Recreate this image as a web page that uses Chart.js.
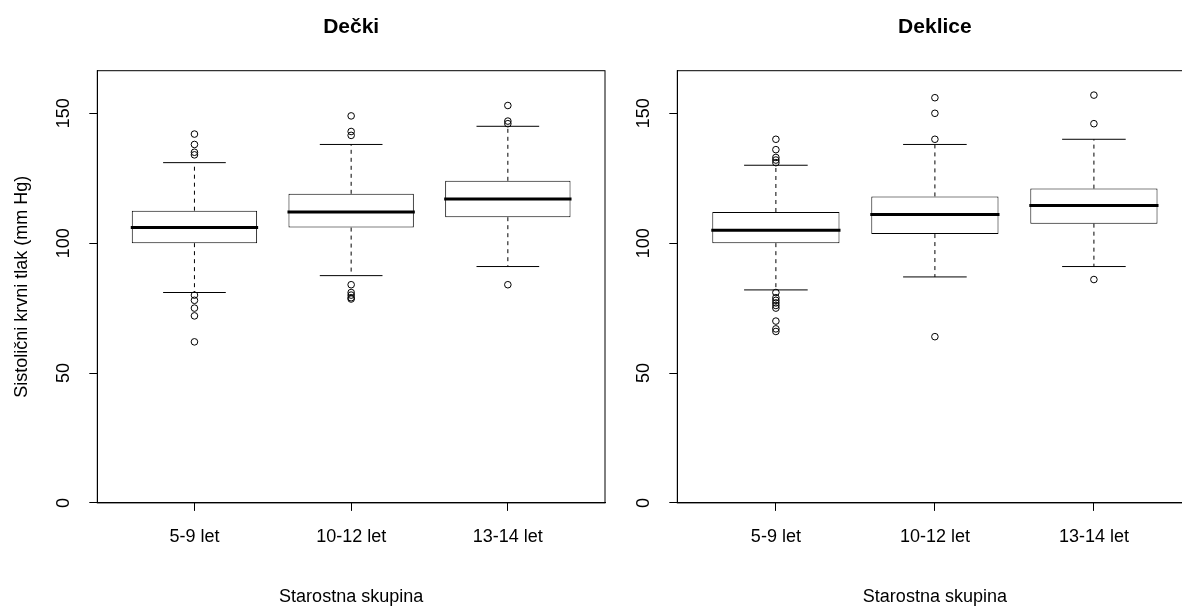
<!DOCTYPE html>
<html>
<head>
<meta charset="utf-8">
<script src="https://cdn.jsdelivr.net/npm/chart.js@4"></script>
<style>
  html, body { margin: 0; padding: 0; overflow: hidden; background: #fff; }
  body { position: relative; width: 1182px; height: 608px; }
  canvas { position: absolute; top: 0; }
  #boysChart { left: 0; }
  #girlsChart { left: 580px; }
</style>
</head>
<body>
<canvas id="boysChart" width="612" height="608"></canvas>
<canvas id="girlsChart" width="628" height="608"></canvas>
<script>
// Groups and axis ticks
const categories = ['5-9 let', '10-12 let', '13-14 let'];
const xPositions = [1, 2, 3];
const yTicks = [0, 50, 100, 150];

// Dečki (boys) box statistics
const boysLow = [81, 87.5, 91];
const boysQ1 = [100, 106, 110];
const boysMedian = [106, 112, 117];
const boysQ3 = [112.5, 119, 124];
const boysHigh = [131, 138, 145];
const boysOutliers = [
    [142, 138, 135, 134, 80, 78, 75, 72, 62],
    [149, 143, 141.5, 84, 81, 80, 79, 78.5],
    [153, 147, 146, 84],
];

// Deklice (girls) box statistics
const girlsLow = [82, 87, 91];
const girlsQ1 = [100, 103.5, 107.5];
const girlsMedian = [105, 111, 114.5];
const girlsQ3 = [112, 118, 121];
const girlsHigh = [130, 138, 140];
const girlsOutliers = [
    [140, 136, 133, 132, 131, 81, 79, 78, 77, 76, 75, 70, 67, 66],
    [156, 150, 140, 64],
    [157, 146, 86],
];

Chart.defaults.font.family = "'Liberation Sans', Arial, sans-serif";
Chart.defaults.color = '#000';

// Whiskers, caps, medians, plot frame and rotated y tick labels
const boxplotExtras = {
    id: 'boxplotExtras',
    afterDatasetsDraw(chart, args, opts) {
        const { ctx, chartArea, scales: { y } } = chart;
        const bars = chart.getDatasetMeta(0).data;
        ctx.save();
        ctx.strokeStyle = '#000';
        bars.forEach((bar, i) => {
            const cx = bar.x;
            const half = bar.width / 2;
            const capHalf = half / 2;
            const yLow = y.getPixelForValue(opts.low[i]);
            const yQ1 = y.getPixelForValue(opts.q1[i]);
            const yQ3 = y.getPixelForValue(opts.q3[i]);
            const yHigh = y.getPixelForValue(opts.high[i]);
            const yMed = y.getPixelForValue(opts.median[i]);

            ctx.lineWidth = 1;
            ctx.setLineDash([4, 4]);
            ctx.beginPath();
            ctx.moveTo(cx, yQ3);
            ctx.lineTo(cx, yHigh);
            ctx.moveTo(cx, yQ1);
            ctx.lineTo(cx, yLow);
            ctx.stroke();

            ctx.setLineDash([]);
            ctx.beginPath();
            ctx.moveTo(cx - capHalf, yHigh);
            ctx.lineTo(cx + capHalf, yHigh);
            ctx.moveTo(cx - capHalf, yLow);
            ctx.lineTo(cx + capHalf, yLow);
            ctx.stroke();

            ctx.lineWidth = 3;
            ctx.beginPath();
            ctx.moveTo(cx - half - 1, yMed);
            ctx.lineTo(cx + half + 1, yMed);
            ctx.stroke();
        });

        ctx.lineWidth = 1;
        ctx.strokeRect(chartArea.left, chartArea.top, chartArea.width, chartArea.height);

        ctx.fillStyle = '#000';
        ctx.font = "18px 'Liberation Sans', Arial, sans-serif";
        ctx.textAlign = 'center';
        ctx.textBaseline = 'middle';
        yTicks.forEach(v => {
            ctx.save();
            ctx.translate(chartArea.left - 33, y.getPixelForValue(v));
            ctx.rotate(-Math.PI / 2);
            ctx.fillText(String(v), 0, 0);
            ctx.restore();
        });
        ctx.restore();
    }
};

function makePanel(canvasId, title, yTitle, low, q1, median, q3, high, outliers, padRight) {
    const ctx = document.getElementById(canvasId).getContext('2d');
    const outlierPoints = [];
    outliers.forEach((list, i) => list.forEach(v => outlierPoints.push({ x: xPositions[i], y: v })));

    return new Chart(ctx, {
        type: 'bar',
        data: {
            datasets: [{
                type: 'bar',
                data: xPositions.map((x, i) => ({ x: x, y: [q1[i], q3[i]] })),
                backgroundColor: '#fff',
                borderColor: '#000',
                borderWidth: 1,
                borderSkipped: false,
                categoryPercentage: 1,
                barPercentage: 0.8,
            }, {
                type: 'scatter',
                data: outlierPoints,
                pointStyle: 'circle',
                pointRadius: 3.3,
                borderWidth: 1,
                borderColor: '#000',
                backgroundColor: 'rgba(0,0,0,0)',
            }],
        },
        options: {
            responsive: false,
            animation: false,
            layout: { padding: { left: 7, right: padRight, top: 0, bottom: 0 } },
            plugins: {
                legend: { display: false },
                tooltip: { enabled: false },
                title: {
                    display: true,
                    fullSize: false,
                    text: title,
                    color: '#000',
                    font: { size: 21, weight: 'bold' },
                    padding: { top: 14.4, bottom: 31.1 },
                },
                boxplotExtras: { low, q1, median, q3, high },
            },
            scales: {
                x: {
                    type: 'linear',
                    min: 0.38,
                    max: 3.62,
                    offset: false,
                    afterBuildTicks: axis => { axis.ticks = xPositions.map(v => ({ value: v })); },
                    ticks: {
                        font: { size: 18 },
                        color: '#000',
                        padding: 15.5,
                        maxRotation: 0,
                        callback: (value, index) => categories[index],
                    },
                    grid: { display: true, offset: false, drawOnChartArea: false, drawTicks: true, tickLength: 8, color: '#000' },
                    border: { display: true, color: '#000' },
                    title: {
                        display: true,
                        text: 'Starostna skupina',
                        font: { size: 18 },
                        color: '#000',
                        padding: { top: 22.9, bottom: 0 },
                    },
                },
                y: {
                    min: 0,
                    max: 166.4,
                    afterBuildTicks: axis => { axis.ticks = yTicks.map(v => ({ value: v })); },
                    ticks: { display: false },
                    grid: { display: true, drawOnChartArea: false, drawTicks: true, tickLength: 8, color: '#000' },
                    border: { display: true, color: '#000' },
                    title: {
                        display: true,
                        text: yTitle,
                        font: { size: 18 },
                        color: '#000',
                        padding: { top: 4, bottom: 56.7 },
                    },
                },
            },
        },
        plugins: [boxplotExtras],
    });
}

makePanel('boysChart', 'Dečki', 'Sistolični krvni tlak (mm Hg)',
    boysLow, boysQ1, boysMedian, boysQ3, boysHigh, boysOutliers, 7);
makePanel('girlsChart', 'Deklice', ' ',
    girlsLow, girlsQ1, girlsMedian, girlsQ3, girlsHigh, girlsOutliers, 15.5);
</script>
</body>
</html>
